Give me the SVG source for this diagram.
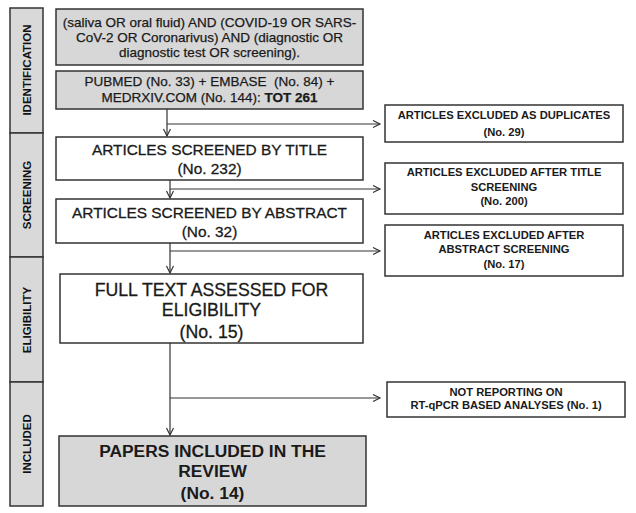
<svg xmlns="http://www.w3.org/2000/svg" width="636" height="513" viewBox="0 0 636 513">
<style>
.stage{fill:#d9d9d9;stroke:#333;stroke-width:1.5}
.gbox{fill:#d7d7d7;stroke:#333;stroke-width:1.5}
.wbox{fill:#fff;stroke:#333;stroke-width:1.5}
.sl{font-family:"Liberation Sans",Arial,sans-serif;font-weight:bold;font-size:11.5px;fill:#111;text-anchor:middle}
.t14{font-family:"Liberation Sans",Arial,sans-serif;font-size:13.5px;fill:#1a1a1a;text-anchor:middle;stroke:#1a1a1a;stroke-width:0.25}
.t16{font-family:"Liberation Sans",Arial,sans-serif;font-size:15.4px;fill:#1a1a1a;text-anchor:middle;stroke:#1a1a1a;stroke-width:0.3}
.t18{font-family:"Liberation Sans",Arial,sans-serif;font-size:17.7px;fill:#1a1a1a;text-anchor:middle;stroke:#1a1a1a;stroke-width:0.3}
.t18b{font-family:"Liberation Sans",Arial,sans-serif;font-size:17.4px;font-weight:bold;fill:#1a1a1a;text-anchor:middle}
.ex{font-family:"Liberation Sans",Arial,sans-serif;font-size:11.2px;font-weight:bold;fill:#1a1a1a;text-anchor:middle}
.c{fill:none;stroke:#333;stroke-width:1.2}
</style>
<defs>
<marker id="ah" markerWidth="10" markerHeight="10" refX="8" refY="4" orient="auto" markerUnits="userSpaceOnUse">
<polyline points="1,0.5 8,4 1,7.5" fill="none" stroke="#333" stroke-width="1.2"/>
</marker>
</defs>
<g id="stages">
<rect class="stage" x="10" y="8" width="33" height="125"/>
<rect class="stage" x="10" y="133" width="33" height="124"/>
<rect class="stage" x="10" y="257" width="33" height="125"/>
<rect class="stage" x="10" y="382" width="33" height="124"/>
<text class="sl" transform="translate(31,70) rotate(-90)">IDENTIFICATION</text>
<text class="sl" transform="translate(31,195) rotate(-90)">SCREENING</text>
<text class="sl" transform="translate(31,320) rotate(-90)">ELIGIBILITY</text>
<text class="sl" transform="translate(31,444) rotate(-90)">INCLUDED</text>
</g>
<g id="query">
<rect class="gbox" x="56" y="9" width="307" height="56"/>
<text class="t14" x="209.5" y="27">(saliva OR oral fluid) AND (COVID-19 OR SARS-</text>
<text class="t14" x="209.5" y="42">CoV-2 OR Coronarivus) AND (diagnostic OR</text>
<text class="t14" x="209.5" y="57">diagnostic test OR screening).</text>
</g>
<g id="databases">
<rect class="gbox" x="56" y="71" width="307" height="38"/>
<text class="t14" x="209.5" y="86">PUBMED (No. 33) + EMBASE&#160; (No. 84) +</text>
<text class="t14" x="209.5" y="102">MEDRXIV.COM (No. 144): <tspan font-weight="bold">TOT 261</tspan></text>
</g>
<g id="title-screen">
<rect class="wbox" x="56" y="137" width="307" height="43"/>
<text class="t16" x="209.5" y="155">ARTICLES SCREENED BY TITLE</text>
<text class="t16" x="209.5" y="174">(No. 232)</text>
</g>
<g id="abstract-screen">
<rect class="wbox" x="56" y="199" width="307" height="44"/>
<text class="t16" x="209.5" y="218">ARTICLES SCREENED BY ABSTRACT</text>
<text class="t16" x="209.5" y="237">(No. 32)</text>
</g>
<g id="fulltext">
<rect class="wbox" x="60" y="274" width="303" height="69"/>
<text class="t18" x="211.5" y="296">FULL TEXT ASSESSED FOR</text>
<text class="t18" x="211.5" y="316">ELIGIBILITY</text>
<text class="t18" x="211.5" y="338">(No. 15)</text>
</g>
<g id="included">
<rect class="gbox" x="59" y="436" width="307" height="70"/>
<text class="t18b" x="212.5" y="457">PAPERS INCLUDED IN THE</text>
<text class="t18b" x="212.5" y="477">REVIEW</text>
<text class="t18b" x="212.5" y="499">(No. 14)</text>
</g>
<g id="ex-duplicates">
<rect class="wbox" x="385" y="105" width="238" height="37"/>
<text class="ex" x="504" y="119">ARTICLES EXCLUDED AS DUPLICATES</text>
<text class="ex" x="504" y="136">(No. 29)</text>
</g>
<g id="ex-title">
<rect class="wbox" x="385" y="163" width="238" height="51"/>
<text class="ex" x="504" y="176">ARTICLES EXCLUDED AFTER TITLE</text>
<text class="ex" x="504" y="191">SCREENING</text>
<text class="ex" x="504" y="205">(No. 200)</text>
</g>
<g id="ex-abstract">
<rect class="wbox" x="385" y="225" width="238" height="51"/>
<text class="ex" x="504" y="239">ARTICLES EXCLUDED AFTER</text>
<text class="ex" x="504" y="253">ABSTRACT SCREENING</text>
<text class="ex" x="504" y="268">(No. 17)</text>
</g>
<g id="ex-rtqpcr">
<rect class="wbox" x="387" y="382" width="238" height="35"/>
<text class="ex" x="506" y="396">NOT REPORTING ON</text>
<text class="ex" x="506" y="409">RT-qPCR BASED ANALYSES (No. 1)</text>
</g>
<g id="connectors">
<line class="c" x1="167" y1="109" x2="167" y2="136" marker-end="url(#ah)"/>
<line class="c" x1="167" y1="124" x2="380" y2="124" marker-end="url(#ah)"/>
<line class="c" x1="170" y1="180" x2="170" y2="198" marker-end="url(#ah)"/>
<line class="c" x1="170" y1="189" x2="380" y2="189" marker-end="url(#ah)"/>
<line class="c" x1="170" y1="243" x2="170" y2="273" marker-end="url(#ah)"/>
<line class="c" x1="170" y1="251" x2="380" y2="251" marker-end="url(#ah)"/>
<line class="c" x1="170" y1="343" x2="170" y2="435" marker-end="url(#ah)"/>
<line class="c" x1="170" y1="398" x2="380" y2="398" marker-end="url(#ah)"/>
</g>
</svg>
